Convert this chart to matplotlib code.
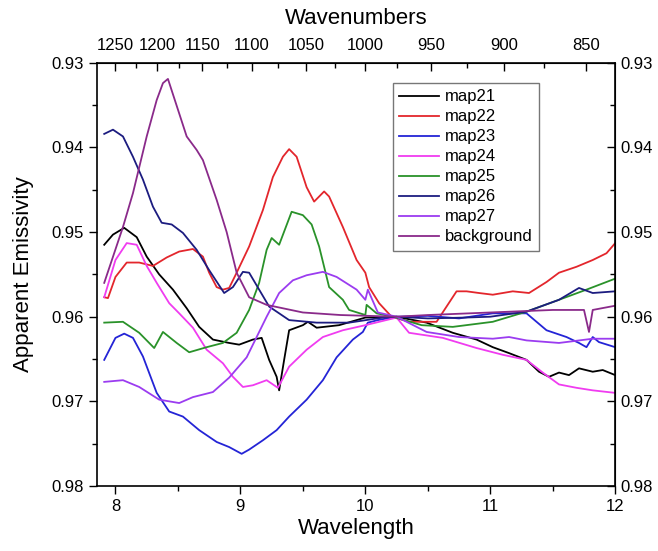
import numpy as np
import matplotlib
matplotlib.use("Agg")
import matplotlib.pyplot as plt
from matplotlib.ticker import MultipleLocator

plt.rcParams['font.family'] = ['Liberation Sans', 'DejaVu Sans']

# values (wavelength in um, apparent emissivity)
map21_x = [7.91, 7.98, 8.07, 8.17, 8.25, 8.35, 8.46, 8.57, 8.67, 8.78, 8.91, 8.99, 9.10, 9.17,
           9.23, 9.29, 9.31, 9.35, 9.39, 9.50, 9.54, 9.61, 9.79, 10.0, 10.25, 10.49, 10.70, 10.89,
           11.02, 11.15, 11.29, 11.39, 11.47, 11.55, 11.63, 11.71, 11.82, 11.90, 12.0]
map21_y = [0.9515, 0.9503, 0.9495, 0.9506, 0.9529, 0.9550, 0.9568, 0.9590, 0.9612, 0.9627, 0.9631,
           0.9633, 0.9627, 0.9625, 0.9651, 0.9671, 0.9687, 0.9651, 0.9616, 0.9610, 0.9606, 0.9613,
           0.9610, 0.9601, 0.9600, 0.9607, 0.9619, 0.9627, 0.9636, 0.9643, 0.9651, 0.9665, 0.9671,
           0.9666, 0.9669, 0.9661, 0.9665, 0.9663, 0.9669]

map22_x = [7.91, 7.94, 8.0, 8.09, 8.19, 8.30, 8.41, 8.51, 8.62, 8.70, 8.75, 8.81, 8.86, 8.91, 8.97,
           9.07, 9.18, 9.26, 9.34, 9.39, 9.45, 9.53, 9.59, 9.67, 9.71, 9.82, 9.93, 10.0, 10.03,
           10.11, 10.21, 10.35, 10.57, 10.65, 10.73, 10.81, 10.91, 11.02, 11.18, 11.31, 11.45,
           11.55, 11.69, 11.82, 11.93, 12.0]
map22_y = [0.9577, 0.9578, 0.9553, 0.9536, 0.9536, 0.9540, 0.9530, 0.9523, 0.9520, 0.9529, 0.9548,
           0.9565, 0.9568, 0.9566, 0.9548, 0.9517, 0.9474, 0.9435, 0.9411, 0.9402, 0.9411, 0.9447,
           0.9464, 0.9452, 0.9458, 0.9494, 0.9533, 0.9548, 0.9565, 0.9584, 0.9600, 0.9606, 0.9606,
           0.9588, 0.9570, 0.9570, 0.9572, 0.9574, 0.9570, 0.9572, 0.9559, 0.9548, 0.9541, 0.9533,
           0.9525, 0.9513]

map23_x = [7.91, 8.0, 8.07, 8.14, 8.22, 8.33, 8.43, 8.54, 8.67, 8.81, 8.91, 9.01, 9.07, 9.18,
           9.29, 9.39, 9.53, 9.66, 9.77, 9.90, 9.98, 10.02, 10.1, 10.25, 10.5, 10.75, 11.02,
           11.29, 11.45, 11.61, 11.71, 11.77, 11.82, 11.87, 12.0]
map23_y = [0.9651, 0.9625, 0.9620, 0.9625, 0.9647, 0.9690, 0.9712, 0.9718, 0.9734, 0.9748, 0.9754,
           0.9762, 0.9757, 0.9746, 0.9734, 0.9718, 0.9698, 0.9675, 0.9648, 0.9627, 0.9618, 0.9607,
           0.9604, 0.9600, 0.9599, 0.9602, 0.9596, 0.9596, 0.9616, 0.9624, 0.9631, 0.9636, 0.9624,
           0.9630, 0.9636]

map24_x = [7.91, 8.0, 8.09, 8.17, 8.25, 8.33, 8.43, 8.51, 8.62, 8.73, 8.86, 8.94, 9.02, 9.10,
           9.21, 9.30, 9.39, 9.53, 9.66, 9.82, 10.0, 10.25, 10.35, 10.62, 10.89, 11.1, 11.29,
           11.42, 11.55, 11.69, 11.82, 12.0]
map24_y = [0.9577, 0.9533, 0.9513, 0.9515, 0.9540, 0.9560, 0.9584, 0.9596, 0.9613, 0.9639, 0.9655,
           0.9671, 0.9683, 0.9681, 0.9675, 0.9684, 0.9659, 0.9639, 0.9624, 0.9616, 0.9610, 0.9601,
           0.9619, 0.9625, 0.9637, 0.9645, 0.9651, 0.9666, 0.9680, 0.9684, 0.9687, 0.9690]

map25_x = [7.91, 8.06, 8.19, 8.31, 8.38, 8.49, 8.59, 8.73, 8.86, 8.97, 9.07, 9.15, 9.21, 9.25,
           9.31, 9.41, 9.50, 9.57, 9.63, 9.71, 9.82, 9.87, 10.0, 10.01, 10.09, 10.22, 10.45,
           10.70, 11.02, 11.29, 11.55, 11.77, 12.0]
map25_y = [0.9607, 0.9606, 0.9619, 0.9637, 0.9618, 0.9631, 0.9642, 0.9636, 0.9631, 0.9619, 0.9592,
           0.9560, 0.9521, 0.9507, 0.9515, 0.9476, 0.9480, 0.9491, 0.9517, 0.9565, 0.9580, 0.9592,
           0.9598, 0.9586, 0.9596, 0.9600, 0.9610, 0.9612, 0.9606, 0.9594, 0.9580, 0.9568, 0.9555]

map26_x = [7.91, 7.98, 8.06, 8.14, 8.22, 8.30, 8.37, 8.45, 8.54, 8.65, 8.75, 8.87, 8.94, 9.02,
           9.07, 9.15, 9.23, 9.39, 9.61, 9.87, 10.14, 10.25, 10.5, 10.8, 11.0, 11.29, 11.55,
           11.71, 11.82, 12.0]
map26_y = [0.9384, 0.9379, 0.9387, 0.9411, 0.9438, 0.9470, 0.9489, 0.9491, 0.9501, 0.9521, 0.9545,
           0.9572, 0.9565, 0.9547, 0.9548, 0.9568, 0.9588, 0.9604, 0.9607, 0.9607, 0.9601, 0.9600,
           0.9602, 0.9601, 0.9600, 0.9594, 0.9580, 0.9566, 0.9572, 0.9570]

map27_x = [7.91, 8.06, 8.19, 8.35, 8.51, 8.62, 8.78, 8.91, 9.05, 9.21, 9.31, 9.42, 9.53, 9.66,
           9.77, 9.93, 10.0, 10.02, 10.1, 10.25, 10.49, 10.75, 11.02, 11.15, 11.29, 11.55,
           11.82, 12.0]
map27_y = [0.9677, 0.9675, 0.9683, 0.9698, 0.9702, 0.9695, 0.9689, 0.9672, 0.9648, 0.9600, 0.9572,
           0.9557, 0.9551, 0.9547, 0.9553, 0.9568, 0.9580, 0.9568, 0.9595, 0.9600, 0.9618, 0.9624,
           0.9626, 0.9624, 0.9628, 0.9631, 0.9626, 0.9626]

bg_x = [7.91, 8.06, 8.14, 8.25, 8.33, 8.38, 8.42, 8.57, 8.65, 8.70, 8.81, 8.89, 8.97, 9.07,
        9.21, 9.5, 9.8, 10.25, 10.5, 11.0, 11.5, 11.75, 11.79, 11.82, 12.0]
bg_y = [0.9560, 0.9494, 0.9454, 0.9387, 0.9344, 0.9324, 0.9319, 0.9387, 0.9403, 0.9415, 0.9462,
        0.9500, 0.9548, 0.9577, 0.9586, 0.9595, 0.9598, 0.9600, 0.9598, 0.9595, 0.9592, 0.9592,
        0.9618, 0.9592, 0.9587]

series = [
    ("map21", map21_x, map21_y, "black"),
    ("map22", map22_x, map22_y, "#e3262c"),
    ("map23", map23_x, map23_y, "#2424d6"),
    ("map24", map24_x, map24_y, "#f03cf0"),
    ("map25", map25_x, map25_y, "#2a922a"),
    ("map26", map26_x, map26_y, "#1c1c80"),
    ("map27", map27_x, map27_y, "#9b3cf0"),
    ("background", bg_x, bg_y, "#8a2a8a"),
]

fig = plt.figure(figsize=(6.58, 5.51), dpi=100)
ax = fig.add_axes([0.147, 0.118, 0.788, 0.768])

for name, xs, ys, c in series:
    ax.plot(xs, ys, color=c, lw=1.3, label=name)

ax.set_xlim(7.85, 12.0)
ax.set_ylim(0.98, 0.93)
ax.set_xticks([8, 9, 10, 11, 12])
ax.xaxis.set_minor_locator(MultipleLocator(0.5))
ax.set_yticks([0.93, 0.94, 0.95, 0.96, 0.97, 0.98])
ax.set_yticklabels(["0.93", "0.94", "0.95", "0.96", "0.97", "0.98"])
ax.yaxis.set_minor_locator(MultipleLocator(0.005))
ax.tick_params(which="both", direction="out", labelsize=12, width=1)
ax.tick_params(which="major", length=6)
ax.tick_params(which="minor", length=3.5)
for s in ax.spines.values():
    s.set_linewidth(1.2)

ax.set_xlabel("Wavelength", fontsize=16, labelpad=3)
ax.set_ylabel("Apparent Emissivity", fontsize=16, labelpad=12)

inv = lambda v: 10000.0 / v
top = ax.secondary_xaxis("top", functions=(inv, inv))
top.set_xticks([1250, 1200, 1150, 1100, 1050, 1000, 950, 900, 850])
top.xaxis.set_minor_locator(MultipleLocator(25))
top.tick_params(which="both", direction="in", labelsize=12, width=1, pad=7)
top.tick_params(which="major", length=6)
top.tick_params(which="minor", length=3.5)
top.set_xlabel("Wavenumbers", fontsize=16, labelpad=10)

right = ax.secondary_yaxis("right")
right.set_yticks([0.93, 0.94, 0.95, 0.96, 0.97, 0.98])
right.set_yticklabels(["0.93", "0.94", "0.95", "0.96", "0.97", "0.98"])
right.yaxis.set_minor_locator(MultipleLocator(0.005))
right.tick_params(which="both", direction="in", labelsize=12, width=1)
right.tick_params(which="major", length=6)
right.tick_params(which="minor", length=3.5)

leg = ax.legend(loc="upper left", bbox_to_anchor=(0.571, 0.953), borderaxespad=0,
                fontsize=12, frameon=True, fancybox=False, edgecolor="#555555",
                labelspacing=0.3, handlelength=2.4, handletextpad=0.3, borderpad=0.4)
leg.get_frame().set_linewidth(1.0)

fig.savefig("out.png", dpi=100)
